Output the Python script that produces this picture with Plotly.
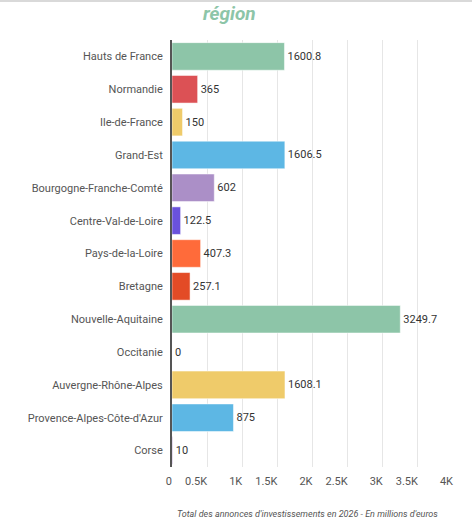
import plotly.graph_objects as go

regions = [
    "Hauts de France", "Normandie", "Ile-de-France", "Grand-Est",
    "Bourgogne-Franche-Comté", "Centre-Val-de-Loire", "Pays-de-la-Loire",
    "Bretagne", "Nouvelle-Aquitaine", "Occitanie", "Auvergne-Rhône-Alpes",
    "Provence-Alpes-Côte-d'Azur", "Corse",
]
values = [1600.8, 365, 150, 1606.5, 602, 122.5, 407.3, 257.1, 3249.7, 0, 1608.1, 875, 10]
labels = ["1600.8", "365", "150", "1606.5", "602", "122.5", "407.3", "257.1",
          "3249.7", "0", "1608.1", "875", "10"]
colors = ["#8dc5a8", "#dc5155", "#efcb6a", "#5db7e4", "#ab8fc7", "#6a52dc",
          "#ff6b3a", "#e34b26", "#8dc5a8", "#efcb6a", "#efcb6a", "#5db7e4", "#ab8fc7"]
tick_vals = [0, 500, 1000, 1500, 2000, 2500, 3000, 3500, 4000]
tick_text = ["0", "0.5K", "1K", "1.5K", "2K", "2.5K", "3K", "3.5K", "4K"]

W, H = 474, 524
L, R, T, B = 172, 21, 40, 57
pw, ph = W - L - R, H - T - B

fig = go.Figure(go.Bar(
    y=regions, x=values, orientation="h",
    marker=dict(color=colors, line=dict(color="rgba(255,255,255,0.5)", width=1)),
    text=labels, textposition="outside", cliponaxis=False,
    textfont=dict(family="Roboto", size=11, color="#333"),
    hoverinfo="skip",
))

fig.update_layout(
    width=W, height=H,
    margin=dict(l=L, r=R, t=T, b=B),
    plot_bgcolor="white", paper_bgcolor="white",
    font=dict(family="Roboto", size=11, color="#555"),
    bargap=0.16, showlegend=False,
)
fig.update_yaxes(
    autorange="reversed", showline=True, linecolor="#555", linewidth=2,
    ticks="", ticklabelstandoff=5, showgrid=False,
)
fig.update_xaxes(
    range=[0, 4000], tickvals=tick_vals, ticktext=tick_text,
    ticklabelposition="outside left", ticklabelstandoff=6,
    showgrid=True, gridcolor="#e6e6e6",
    zeroline=False, showline=False, ticks="",
)

# title sits right under the top border
fig.add_annotation(
    text="<b><i>région</i></b>", xref="paper", yref="paper",
    x=(229 - L) / pw, y=1, yshift=T - 13, xanchor="center", yanchor="middle",
    showarrow=False, font=dict(family="Roboto", size=19, color="#8dc5a8"),
)
fig.add_shape(type="line", xref="paper", yref="paper",
              x0=-L / pw, x1=(W - 2 - L) / pw,
              y0=1 + (T - 1) / ph, y1=1 + (T - 1) / ph,
              line=dict(color="#d9d9d9", width=2))

fig.add_annotation(
    text="<i>Total des annonces d'investissements en 2026 - En millions d'euros</i>",
    xref="paper", yref="paper", x=(440 - L) / pw, y=0, yshift=-47,
    xanchor="right", yanchor="middle", showarrow=False,
    font=dict(family="Roboto", size=9, color="#555"),
)

fig.write_html("out.html", config={"displayModeBar": False},
               post_script="document.body.style.margin='0';")
